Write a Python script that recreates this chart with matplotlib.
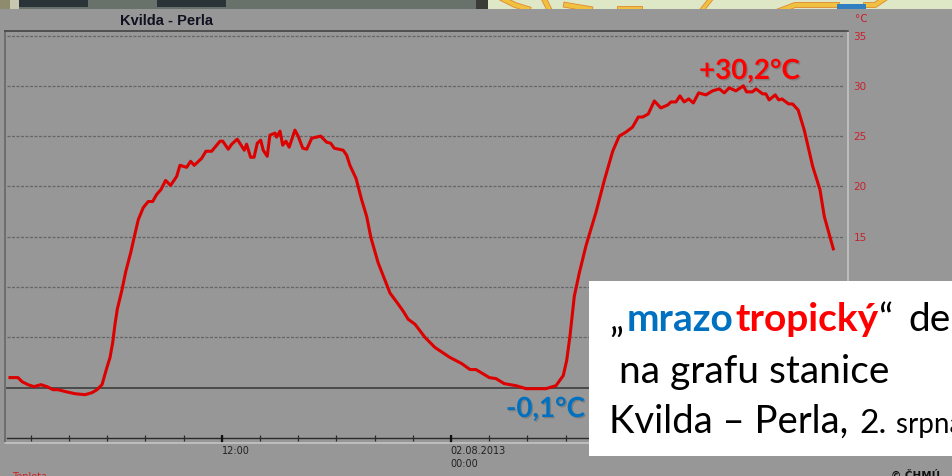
import matplotlib
matplotlib.use("Agg")
import matplotlib.pyplot as plt
import matplotlib.patheffects as pe
from matplotlib.lines import Line2D
from matplotlib.patches import Rectangle

# hours since 01.08.2013 00:00
hours = [0.91, 1.33, 1.54, 1.85, 2.17, 2.53, 2.85, 3.16, 3.42, 3.84, 4.31, 4.84, 5.20, 5.47, 5.73, 5.97,
         6.15, 6.29, 6.41, 6.53, 6.76, 6.98, 7.23, 7.42, 7.63, 7.89, 8.15, 8.38, 8.59, 8.82, 9.06, 9.32,
         9.64, 9.81, 10.16, 10.37, 10.56, 10.95, 11.17, 11.47, 11.91, 12.05, 12.34, 12.52, 12.81, 13.18,
         13.30, 13.51, 13.69, 13.86, 14.04, 14.17, 14.38, 14.52, 14.79, 14.87, 15.05, 15.19, 15.36, 15.53,
         15.83, 16.00, 16.24, 16.45, 16.71, 17.18, 17.49, 17.70, 17.89, 18.36, 18.54, 18.71, 19.03, 19.32,
         19.59, 19.81, 20.19, 20.81, 21.24, 21.50, 21.76, 22.12, 22.64, 23.16, 23.95, 24.56, 25.00, 25.31,
         26.01, 26.36, 26.79, 27.40, 27.93, 28.45, 28.97, 29.50, 29.88, 30.06, 30.23, 30.46, 30.72, 31.07,
         31.21, 31.59, 32.03, 32.47, 32.81, 33.16, 33.51, 33.81, 34.04, 34.33, 34.65, 34.99, 35.35, 35.52,
         35.78, 35.99, 36.21, 36.45, 36.69, 36.97, 37.35, 37.70, 38.05, 38.31, 38.57, 38.92, 39.31, 39.48,
         39.79, 39.97, 40.32, 40.49, 40.66, 40.98, 41.16, 41.33, 41.68, 41.89, 42.18, 42.50, 42.94, 43.32,
         43.55, 43.84, 44.02]
temps = [1.0, 1.0, 0.6, 0.3, 0.1, 0.3, 0.1, -0.2, -0.2, -0.4, -0.6, -0.7, -0.5, -0.2, 0.3, 1.9,
         3.0, 4.5, 6.3, 7.8, 9.6, 11.6, 13.4, 15.0, 16.7, 17.9, 18.5, 18.5, 19.2, 19.7, 20.6, 20.1,
         21.0, 22.1, 21.9, 22.5, 22.1, 22.8, 23.5, 23.5, 24.5, 24.5, 23.7, 24.2, 24.7, 23.6,
         24.2, 22.9, 22.9, 24.3, 24.6, 23.6, 23.0, 25.1, 25.3, 24.9, 25.5, 24.1, 24.5, 23.9,
         25.6, 25.0, 23.8, 23.7, 24.8, 25.0, 24.4, 24.3, 23.8, 23.6, 23.1, 22.1, 20.8, 18.7,
         17.0, 14.9, 12.4, 9.4, 8.3, 7.6, 6.8, 6.3, 5.0, 4.0, 3.0, 2.4, 1.8, 1.8,
         1.0, 0.9, 0.4, 0.2, -0.1, -0.1, -0.1, 0.2, 1.2, 2.7, 5.1, 9.1, 11.4, 14.1,
         15.0, 17.4, 20.6, 23.5, 25.0, 25.4, 25.9, 26.9, 26.9, 27.2, 28.5, 27.8, 28.1, 28.4,
         28.4, 29.0, 28.4, 28.7, 28.3, 29.3, 29.1, 29.5, 29.7, 29.3, 29.8, 29.5, 30.0, 29.4,
         29.4, 29.7, 29.2, 29.2, 28.6, 29.1, 28.6, 28.7, 28.2, 28.2, 27.6, 25.6, 22.0, 19.7,
         17.0, 15.0, 13.8]

y_ticks = [15, 20, 25, 30, 35]
grid_levels = [5, 10, 15, 20, 25, 30, 35]
minor_hours = list(range(2, 45, 2))
major_hours = [12, 24]

W, H = 952, 476
BG = "#979797"
RED = "#dc0000"
TICK_RED = "#c8202c"

fig = plt.figure(figsize=(W / 100, H / 100), dpi=100, facecolor=BG)


def fig_rect(x0, y0, x1, y1, color, z=1):
    # rectangle in reference pixels, y measured from the top
    fig.add_artist(Rectangle((x0 / W, 1 - y1 / H), (x1 - x0) / W, (y1 - y0) / H,
                             transform=fig.transFigure, facecolor=color, edgecolor="none", zorder=z))


def road(xs, ys, width=3.0):
    # yellow map road with orange casing, clipped by the gray panel drawn over it
    fig.add_artist(Line2D([x / W for x in xs], [1 - y / H for y in ys], transform=fig.transFigure,
                          color="#f0c040", lw=width, zorder=2,
                          path_effects=[pe.Stroke(linewidth=width + 1.2, foreground="#e08a30"), pe.Normal()]))


# strip of the map screenshot above the chart
fig_rect(0, 0, 476, 9, "#68726a")
fig_rect(0, 0, 10, 9, "#8d8c6c")
fig_rect(10, 0, 19, 9, "#c8c8b0")
fig_rect(19, 0, 88, 6.5, "#2a3338")
fig_rect(157, 0, 226, 6.5, "#2a3338")
fig_rect(476, 0, 952, 9, "#dfe8c6")
fig_rect(476, 0, 488, 9, "#3a3a38")
road([503, 515, 528], [-1, 5, 9])
road([544, 549], [-1, 9])
road([566, 590], [5, 9])
road([620, 640], [9, 9])
road([702, 710], [10, 0], 2.4)
road([779, 795, 837], [11, 5, 5])
road([866, 875, 884], [5, 5, -1])
fig_rect(837, 4, 866, 9, "#2f7fc1", 3)
fig_rect(0, 9, 952, 14, BG, 3)

ax = fig.add_axes([5 / W, 1 - 443 / H, 843 / W, 412.5 / H], facecolor=BG)
ax.set_xlim(0.65, 44.79)
ax.set_ylim(-5.5, 35.5)

for lev in grid_levels:
    ax.plot([0.75, 44.55], [lev, lev], color="#666666", lw=0.9, ls=(0, (2.4, 1.2)), zorder=1)
ax.plot([0.75, 44.79], [0, 0], color="#3c3c3c", lw=1.2, zorder=2)
ax.plot([0.75, 44.79], [-5, -5], color="#2a2a2a", lw=1.0, zorder=2)
ax.vlines(minor_hours, -5.3, -4.75, color="#2a2a2a", lw=0.9, zorder=2)
ax.vlines(major_hours, -5.5, -4.7, color="#111111", lw=1.6, zorder=2)

ax.plot(hours, temps, color=RED, lw=2.2, zorder=3, solid_joinstyle="round")

ax.set_xticks([])
ax.yaxis.tick_right()
ax.set_yticks(y_ticks)
ax.tick_params(axis="y", length=0, pad=4, labelsize=7.5, labelcolor=TICK_RED)
ax.spines["left"].set_color("#666666")
ax.spines["top"].set_color("#444444")
ax.spines["right"].set_color("#c4c4c4")
ax.spines["bottom"].set_color("#c4c4c4")
for s in ax.spines.values():
    s.set_linewidth(1.2)


def px_text(x, y, s, **kw):
    return fig.text(x / W, 1 - y / H, s, **kw)


px_text(120, 21, "Kvilda - Perla", fontsize=10.5, fontweight="bold", color="#101020",
        family="Liberation Sans", va="center")
px_text(855, 19, "°C", fontsize=7.5, color=TICK_RED, family="DejaVu Sans", va="center")
px_text(222, 451, "12:00", fontsize=7, color="#222222", family="DejaVu Sans", va="center")
px_text(450, 451, "02.08.2013", fontsize=7, color="#222222", family="DejaVu Sans", va="center")
px_text(450, 464, "00:00", fontsize=7, color="#222222", family="DejaVu Sans", va="center")
px_text(12, 477, "Teplota", fontsize=7, color="#d02020", family="DejaVu Sans", va="center")
px_text(891, 476, "© ČHMÚ", fontsize=7.5, fontweight="bold", color="#111111", family="DejaVu Sans", va="center")

soft = [pe.SimplePatchShadow(offset=(1, -1), shadow_rgbFace="#555555", alpha=0.35), pe.Normal()]
px_text(699, 71, "+30,2°C", fontsize=20, fontweight="bold", color="#ff0000", family="Lato",
        va="center", path_effects=soft)
px_text(506, 409, "-0,1°C", fontsize=20, fontweight="bold", color="#0070c0", family="Lato",
        va="center", path_effects=soft)

# white caption box
fig_rect(589, 281, 952, 456, "white", 5)

line1_x = [609, 627, 735, 878, 908]
line1_runs = ["„", "mrazo", "tropický", "“", "den"]
line1_colors = ["black", "#0070c0", "#ff0000", "black", "black"]
line1_weights = ["normal", "bold", "bold", "normal", "normal"]
for x, s, c, w in zip(line1_x, line1_runs, line1_colors, line1_weights):
    px_text(x, 331, s, fontsize=28, color=c, fontweight=w, family="Lato", zorder=6, va="baseline")

px_text(619, 383, "na grafu stanice", fontsize=28, color="black", family="Lato", zorder=6, va="baseline")
px_text(609, 433, "Kvilda – Perla,", fontsize=27.5, color="black", family="Lato", zorder=6, va="baseline")
px_text(859, 433, "2.", fontsize=24, color="black", family="Lato", zorder=6, va="baseline")
px_text(896, 433, "srpna 2013", fontsize=20, color="black", family="Lato", zorder=6, va="baseline")

fig.savefig("out.png", dpi=100, facecolor=BG)
